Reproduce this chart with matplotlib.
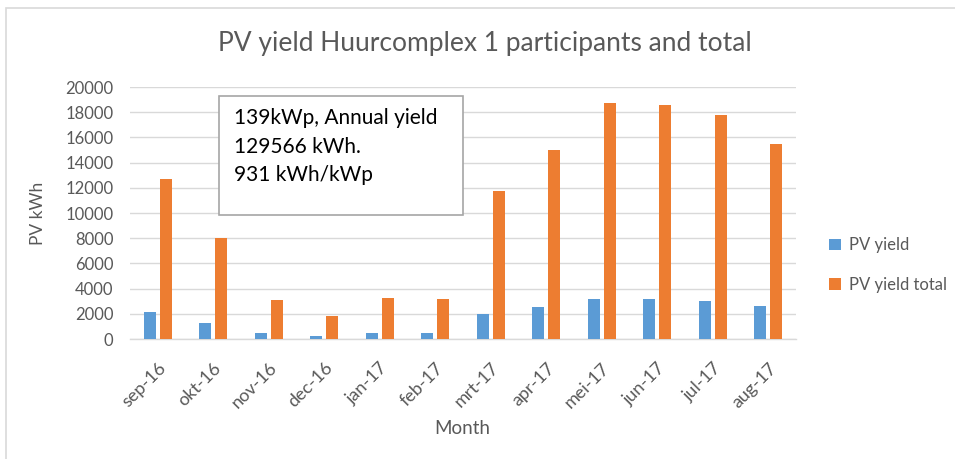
import matplotlib
matplotlib.use("Agg")
import matplotlib.pyplot as plt
import numpy as np
from matplotlib.patches import Rectangle

months = ["sep-16", "okt-16", "nov-16", "dec-16", "jan-17", "feb-17",
          "mrt-17", "apr-17", "mei-17", "jun-17", "jul-17", "aug-17"]
pv_yield = [2120, 1300, 500, 265, 500, 500, 1960, 2520, 3150, 3150, 3000, 2600]
pv_yield_total = [12700, 8050, 3075, 1850, 3230, 3150, 11765, 15000, 18700, 18550, 17800, 15480]
yticks = list(range(0, 20001, 2000))

plt.rcParams['font.family'] = ['Lato', 'DejaVu Sans']
W, H = 955, 459
fig = plt.figure(figsize=(W/100, H/100), dpi=100)
fig.patch.set_facecolor('white')

# outer chart border
fig.add_artist(Rectangle((6/W, -0.1), 1.2, 1 - 8/H + 0.1, transform=fig.transFigure,
                         fill=False, edgecolor='#d9d9d9', linewidth=1.2))

left, right, top, bottom = 130, 796, 87, 339
ax = fig.add_axes([left/W, 1 - bottom/H, (right-left)/W, (bottom-top)/H])

x = np.arange(len(months))
w = 0.216
off = 0.144
ax.bar(x - off, pv_yield, width=w, color='#5b9bd5', label='PV yield', zorder=3)
ax.bar(x + off, pv_yield_total, width=w, color='#ed7d31', label='PV yield total', zorder=3)

ax.set_xlim(-0.5, len(months) - 0.5)
ax.set_ylim(0, 20000)
ax.set_yticks(yticks)
ax.set_yticklabels([str(v) for v in yticks], fontsize=12, color='#595959')
ax.set_xticks(x)
ax.set_xticklabels(months, rotation=45, ha='right', rotation_mode='anchor',
                   fontsize=13, color='#595959')
ax.tick_params(axis='y', length=0, pad=12)
ax.tick_params(axis='x', length=0, pad=15)
ax.yaxis.grid(True, color='#d9d9d9', linewidth=1.0, zorder=0)
for s in ['top', 'right', 'left']:
    ax.spines[s].set_visible(False)
ax.spines['bottom'].set_color('#d9d9d9')
ax.spines['bottom'].set_linewidth(1.0)

fig.text(485/W, 1 - 44/H, 'PV yield Huurcomplex 1 participants and total',
         ha='center', va='center', fontsize=19, color='#595959')
fig.text(38/W, 1 - 213/H, 'PV kWh', rotation=90, ha='center', va='center',
         fontsize=12.5, color='#595959')
fig.text(462/W, 1 - 428/H, 'Month', ha='center', va='center',
         fontsize=13.5, color='#595959')

# annotation box
fig.add_artist(Rectangle((219/W, 1 - 215/H), (463-219)/W, (215-96)/H,
                         transform=fig.transFigure, facecolor='white',
                         edgecolor='#a6a6a6', linewidth=1.2, zorder=5))
for txt, yy in [('139kWp, Annual yield', 118), ('129566 kWh.', 147), ('931 kWh/kWp', 175)]:
    fig.text(234/W, 1 - yy/H, txt, ha='left', va='center', fontsize=15,
             color='#000000', zorder=6)

leg = ax.legend(loc='center left', bbox_to_anchor=(814/W, 1 - 265/H),
                bbox_transform=fig.transFigure, frameon=False, fontsize=12,
                handlelength=0.7, handleheight=0.7, handletextpad=0.5,
                labelspacing=1.4, labelcolor='#595959')

fig.savefig('out.png', dpi=100)
